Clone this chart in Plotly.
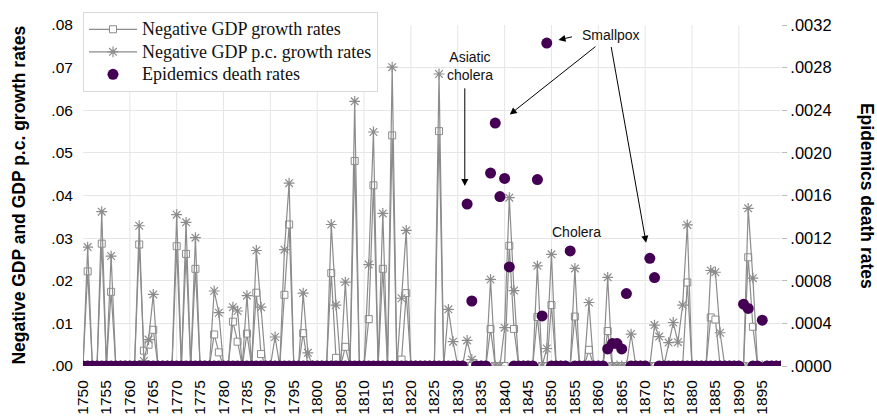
import plotly.graph_objects as go

# Years covered by the series
years = list(range(1750, 1900))

# Negative GDP growth rates (0 where growth was positive), one row per decade
gdp_neg = [
    0, .0222, 0, 0, .0287, 0, .0174, 0, 0, 0,            # 1750s
    0, 0, .0285, .0036, .0050, .0085, 0, 0, 0, 0,        # 1760s
    .0281, 0, .0263, 0, .0228, 0, 0, 0, .0074, .0032,    # 1770s
    0, 0, .0104, .0057, 0, .0076, 0, .0172, .0028, 0,    # 1780s
    0, 0, 0, .0167, .0332, 0, 0, .0077, 0, 0,            # 1790s
    0, 0, 0, .0218, .0019, 0, .0045, 0, .0481, 0,        # 1800s
    0, .0110, .0424, 0, .0228, 0, .0541, 0, .0015, .0171,  # 1810s
    0, 0, 0, 0, 0, 0, .0551, 0, 0, 0,                    # 1820s
    0, 0, 0, 0, 0, 0, 0, .0087, 0, 0,                    # 1830s
    0, .0282, .0087, 0, 0, 0, 0, .0115, 0, 0,            # 1840s
    .0143, 0, 0, 0, 0, .0116, 0, 0, .0038, 0,            # 1850s
    0, 0, .0082, 0, 0, 0, 0, 0, 0, 0,                    # 1860s
    0, 0, 0, 0, 0, 0, 0, 0, 0, .0196,                    # 1870s
    0, 0, 0, 0, .0114, .0109, 0, 0, 0, 0,                # 1880s
    0, 0, .0255, .0092, 0, 0, 0, 0, 0, 0,                # 1890s
]

# Negative GDP per capita growth rates
gdp_pc_neg = [
    0, .0279, 0, 0, .0362, 0, .0258, 0, 0, 0,
    0, 0, .0329, .0012, .0062, .0168, 0, 0, 0, 0,
    .0355, 0, .0337, 0, .0301, 0, 0, 0, .0176, .0125,
    0, 0, .0138, .0129, 0, .0165, 0, .0271, .0138, 0,
    0, .0068, 0, .0273, .0429, 0, 0, .0171, .0031, 0,
    0, 0, 0, .0332, .0143, 0, .0197, 0, .0621, 0,
    0, .0238, .0549, 0, .0358, 0, .0701, 0, .0159, .0318,
    0, 0, 0, 0, 0, 0, .0685, 0, .0133, .0057,
    0, 0, .0060, .0015, 0, 0, 0, .0203, 0, 0,
    .0090, .0395, .0177, 0, 0, 0, 0, .0235, 0, .0041,
    .0262, 0, 0, 0, 0, .0229, 0, 0, .0149, 0,
    0, 0, .0208, 0, 0, 0, 0, .0075, 0, 0,
    0, 0, .0096, .0069, 0, .0055, .0102, .0056, .0143, .0331,
    0, 0, 0, 0, .0224, .0220, .0078, 0, 0, 0,
    0, 0, .0370, .0206, 0, 0, 0, 0, 0, 0,
]

# Epidemics death rates (right axis)
epidemic_deaths = [
    0, 0, 0, 0, 0, 0, 0, 0, 0, 0,
    0, 0, 0, 0, 0, 0, 0, 0, 0, 0,
    0, 0, 0, 0, 0, 0, 0, 0, 0, 0,
    0, 0, 0, 0, 0, 0, 0, 0, 0, 0,
    0, 0, 0, 0, 0, 0, 0, 0, 0, 0,
    0, 0, 0, 0, 0, 0, 0, 0, 0, 0,
    0, 0, 0, 0, 0, 0, 0, 0, 0, 0,
    0, 0, 0, 0, 0, 0, 0, 0, 0, 0,
    0, 0, .00152, .00061, 0, 0, 0, .00181, .00228, .00159,
    .00176, .00093, 0, 0, 0, 0, 0, .00175, .00047, .00303,
    0, 0, 0, 0, .00108, 0, 0, 0, 0, 0,
    0, 0, .00016, .00021, .00021, .00016, .00068, 0, 0, 0,
    0, .00101, .00083, 0, 0, 0, 0, 0, 0, 0,
    0, 0, 0, 0, 0, 0, 0, 0, 0, 0,
    0, .00058, .00054, 0, 0, .00043, 0, 0, 0, 0,
]

# Axis ticks
x_ticks = list(range(1750, 1900, 5))
x_grid = list(range(1760, 1900, 10))
y_left_ticks = [i / 100 for i in range(0, 9)]
y_left_text = [".00", ".01", ".02", ".03", ".04", ".05", ".06", ".07", ".08"]
y_right_ticks = [i * 0.0004 for i in range(0, 9)]
y_right_text = [".0000", ".0004", ".0008", ".0012", ".0016", ".0020", ".0024", ".0028", ".0032"]

GREY = "#8c8c8c"
PURPLE = "#440154"
GRID = "#e6e6e6"


def legend_label(s):
    # larger glyphs than the legend's base size, keeping rows compact
    return '<span style="font-size:18px">' + s + "</span>"


fig = go.Figure()

fig.add_trace(go.Scatter(
    x=years, y=gdp_neg, name=legend_label("Negative GDP growth rates"),
    mode="lines+markers",
    line=dict(color=GREY, width=1.2),
    marker=dict(symbol="square", size=7, color="white",
                line=dict(color=GREY, width=1)),
))
fig.add_trace(go.Scatter(
    x=years, y=gdp_pc_neg, name=legend_label("Negative GDP p.c. growth rates"),
    mode="lines+markers",
    line=dict(color=GREY, width=1.2),
    marker=dict(symbol="asterisk-open", size=9,
                line=dict(color=GREY, width=1.2)),
))
fig.add_trace(go.Scatter(
    x=years, y=epidemic_deaths, name=legend_label("Epidemics death rates"),
    mode="markers", yaxis="y2",
    marker=dict(symbol="circle", size=11, color=PURPLE),
))

# Vertical grid every ten years
shapes = [
    dict(type="line", xref="x", yref="paper", x0=g, x1=g, y0=0, y1=1,
         line=dict(color=GRID, width=1), layer="below")
    for g in x_grid
]

ann_font = dict(family="Liberation Sans", size=14, color="#111")
arrow = dict(xref="x", yref="y", axref="x", ayref="y", text="",
             showarrow=True, arrowhead=2, arrowsize=1.4, arrowwidth=1, arrowcolor="#000")
annotations = [
    dict(text="<b>Negative GDP and GDP p.c. growth rates</b>", textangle=-90,
         xref="paper", yref="paper", x=-0.093, y=0.5, showarrow=False,
         xanchor="center", yanchor="middle",
         font=dict(family="Liberation Sans", size=17.5, color="#000")),
    dict(text="<b>Epidemics death rates</b>", textangle=90,
         xref="paper", yref="paper", x=1.124, y=0.5, showarrow=False,
         xanchor="center", yanchor="middle",
         font=dict(family="Liberation Sans", size=17.5, color="#000")),
    dict(text="Asiatic<br>cholera", x=1832.6, y=0.0703, xref="x", yref="y",
         showarrow=False, font=ann_font),
    dict(arrow, x=1831.5, y=0.0422, ax=1831.5, ay=0.0655),
    dict(text="Smallpox", x=1862.7, y=0.0776, xref="x", yref="y",
         showarrow=False, font=ann_font),
    dict(arrow, x=1851.5, y=0.0765, ax=1854.7, ay=0.0773),
    dict(arrow, x=1841.1, y=0.0590, ax=1859.7, ay=0.0752),
    dict(arrow, x=1870.2, y=0.0289, ax=1862.7, ay=0.0752),
    dict(text="Cholera", x=1855.4, y=0.0315, xref="x", yref="y",
         showarrow=False, font=ann_font),
]

fig.update_layout(
    width=877, height=416,
    margin=dict(l=83, r=96, t=16, b=50),
    paper_bgcolor="white", plot_bgcolor="white",
    font=dict(family="Liberation Sans", size=15, color="#000"),
    showlegend=True,
    legend=dict(
        x=0, y=1.038, xanchor="left", yanchor="top",
        bgcolor="white", bordercolor="#d9d9d9", borderwidth=1,
        font=dict(family="Liberation Serif", size=15, color="#111"),
        itemwidth=48, tracegroupgap=0,
    ),
    xaxis=dict(
        range=[1750, 1899], tickmode="array", tickvals=x_ticks,
        ticktext=[str(t) for t in x_ticks], tickangle=-90,
        ticks="outside", ticklen=7, tickcolor="rgba(0,0,0,0)",
        showgrid=False, zeroline=False, showline=False, automargin=False,
        tickfont=dict(size=15.5),
    ),
    yaxis=dict(
        range=[0, 0.08], tickmode="array", tickvals=y_left_ticks, ticktext=y_left_text,
        ticks="outside", ticklen=6, tickcolor="rgba(0,0,0,0)",
        showgrid=True, gridcolor=GRID, gridwidth=1, zeroline=False, showline=False,
        automargin=False, tickfont=dict(size=15.5),
    ),
    yaxis2=dict(
        range=[0, 0.0032], overlaying="y", side="right", tickmode="array",
        tickvals=y_right_ticks, ticktext=y_right_text,
        ticks="outside", ticklen=5, tickcolor="#bbbbbb", tickwidth=1,
        showgrid=False, zeroline=False, showline=False, automargin=False,
        tickfont=dict(size=16.5),
    ),
    shapes=shapes,
    annotations=annotations,
)

fig.write_html("out.html")
